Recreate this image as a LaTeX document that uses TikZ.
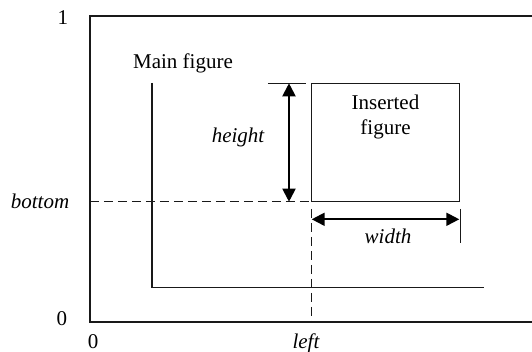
\documentclass[tikz,border=0pt]{standalone}
\usepackage{fontspec}
\setmainfont{Liberation Serif}
\usetikzlibrary{arrows.meta}

\begin{document}
\fontsize{10.5pt}{12.6pt}\selectfont
\begin{tikzpicture}[
            x=0.5pt, y=-0.5pt,
            frame/.style={
                draw=black!90,
                line width=0.6pt
            },
            guide/.style={
                draw=black!90,
                line width=0.6pt,
                dash pattern=on 4.6pt off 2.4pt
            },
            dimarrow/.style={
                line width=1pt,
                {Triangle[length=6.5pt,width=6.5pt]}-{Triangle[length=6.5pt,width=6.5pt]}
            },
            box/.style={
                draw=black!90,
                line width=0.6pt,
                minimum width=73.8pt,
                minimum height=59.2pt,
                inner sep=0pt,
                outer sep=0pt
            },
            varname/.style={
                font=\itshape
            }
        ]

            \useasboundingbox (0, 0) rectangle (532, 352);

            % outer frame, open to the right
            \coordinate (ftr) at (532, 16);
            \coordinate (ftl) at (90, 16);
            \coordinate (fbl) at (90, 322);
            \coordinate (fbr) at (532, 322);
            \draw[frame] (ftr) -- (ftl) -- (fbl) -- (fbr);

            \node (one) at (63, 18) {1};
            \node (zeroy) at (62, 319) {0};
            \node (zerox) at (93, 342) {0};

            % main figure axes
            \node (main) at (183, 63) {Main figure};
            \coordinate (mtop) at (152, 83);
            \coordinate (morig) at (152, 287.5);
            \coordinate (mright) at (484, 287.5);
            \draw[frame] (mtop) -- (morig) -- (mright);

            % inserted figure
            \node[box] (ins) at (385.5, 142.5) {};
            \node[align=center] (instext) at (385.5, 117) {Inserted\\figure};

            % bottom
            \node[varname] (bottom) at (40, 201) {bottom};
            \coordinate (bl) at (90, 201.7);
            \draw[guide] (bl) -- (ins.south west);

            % left
            \node[varname] (left) at (306, 343) {left};
            \coordinate (lt) at (311.7, 209);
            \coordinate (lb) at (311.7, 322);
            \draw[guide] (lt) -- (lb);

            % height
            \node[varname] (height) at (238, 137) {height};
            \coordinate (tl) at (268, 83.3);
            \coordinate (tr) at (306, 83.3);
            \draw[frame] (tl) -- (tr);
            \coordinate (ht) at (289, 83.3);
            \coordinate (hb) at (289, 201.7);
            \draw[dimarrow] (ht) -- (hb);

            % width
            \node[varname] (width) at (388, 236) {width};
            \coordinate (wt) at (460.7, 209);
            \coordinate (wb) at (460.7, 242.7);
            \draw[frame] (wt) -- (wb);
            \coordinate (wl) at (311.7, 219.3);
            \coordinate (wr) at (459.3, 219.3);
            \draw[dimarrow] (wl) -- (wr);

        \end{tikzpicture}
\end{document}
